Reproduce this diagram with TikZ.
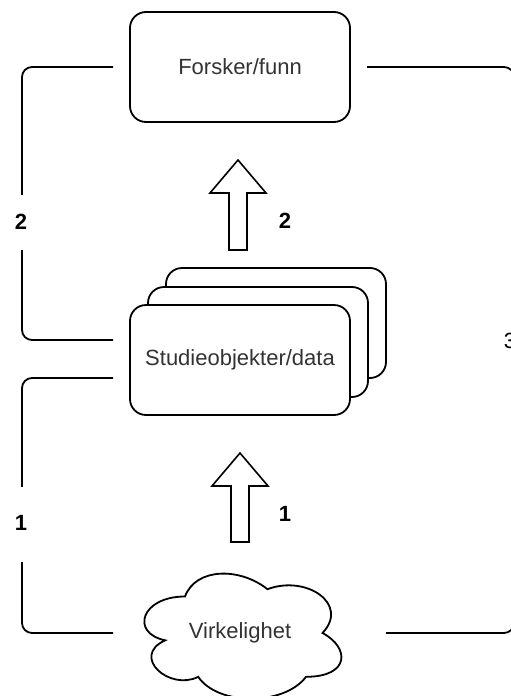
\documentclass[tikz,border=0pt]{standalone}
\usepackage{fontspec}
\setmainfont{Liberation Sans}
\usetikzlibrary{calc}
\definecolor{txt}{HTML}{333333}
\begin{document}
\begin{tikzpicture}[x=1pt,y=-1pt,
  box/.style={draw=black, line width=1.8pt, rounded corners=16pt, minimum width=220pt, minimum height=110pt, inner sep=0pt, outer sep=0pt, fill=white, text=txt, font=\fontsize{22}{26}\selectfont},
  conn/.style={draw=black, line width=1.8pt, rounded corners=10pt},
  blockarrow/.style={draw=black, line width=1.6pt, fill=white, line join=miter},
  lbl/.style={fill=white, inner sep=0pt, minimum width=16pt, font=\fontsize{22}{26}\selectfont\bfseries, text=black}]
\fill[white] (0,0) rectangle (511,696);
\useasboundingbox (0,0) rectangle (511,696);
% boxes
\node[box] (forsker) at (240,67) {Forsker/funn};
\node[box] (studieB) at (276,323) {};
\node[box] (studieM) at (258,342) {};
\node[box] (studie) at (240,360) {Studieobjekter/data};
% cloud
\node[minimum width=220pt, minimum height=146pt, inner sep=0pt, outer sep=0pt, text=txt, font=\fontsize{22}{26}\selectfont] (cloud) at (240,633) {Virkelighet};
\begin{scope}[shift={(cloud.north west)}, x=220pt, y=-146pt]
\draw[line width=1.8pt, draw=black] (0.25,0.25) .. controls (0.05,0.25) and (0,0.5) .. (0.16,0.55)
 .. controls (0,0.66) and (0.18,0.9) .. (0.31,0.8)
 .. controls (0.4,1) and (0.7,1) .. (0.8,0.8)
 .. controls (1,0.8) and (1,0.6) .. (0.875,0.5)
 .. controls (1,0.3) and (0.8,0.1) .. (0.625,0.2)
 .. controls (0.5,0.05) and (0.3,0.05) .. (0.25,0.25) -- cycle;
\end{scope}
% block arrows
\draw[blockarrow] (238,160) -- (266,193) -- (247,193) -- (247,250) -- (229,250) -- (229,193) -- (210,193) -- cycle;
\draw[blockarrow] (240,453) -- (268,486) -- (249,486) -- (249,542) -- (231,542) -- (231,486) -- (212,486) -- cycle;
% connector coordinates
\coordinate (a2) at ($(forsker.west)+(-17,0)$);
\coordinate (b2) at ($(studie.west)+(-17,-20)$);
\coordinate (a1) at ($(studie.west)+(-17,18)$);
\coordinate (b1) at ($(cloud.west)+(-17,0)$);
\coordinate (a3) at ($(forsker.east)+(17,0)$);
\coordinate (b3) at ($(cloud.east)+(36,0)$);
\draw[conn] (a2) -- (a2 -| 22,0) -- (b2 -| 22,0) -- (b2);
\draw[conn] (a1) -- (a1 -| 22,0) -- (b1 -| 22,0) -- (b1);
\draw[conn] (a3) -- (a3 -| 514,0) -- (b3 -| 514,0) -- (b3);
% labels
\node[lbl, minimum height=55pt] (l2) at (21,222) {2};
\node[lbl, minimum height=75pt] (l1) at (21,524) {\raisebox{3pt}{1}};
\node[lbl, minimum height=26pt] (l3) at (510,341) {\mdseries 3};
\node[font=\fontsize{22}{26}\selectfont\bfseries] (m2) at (285,221) {2};
\node[font=\fontsize{22}{26}\selectfont\bfseries] (m1) at (285,514) {1};
\end{tikzpicture}
\end{document}
